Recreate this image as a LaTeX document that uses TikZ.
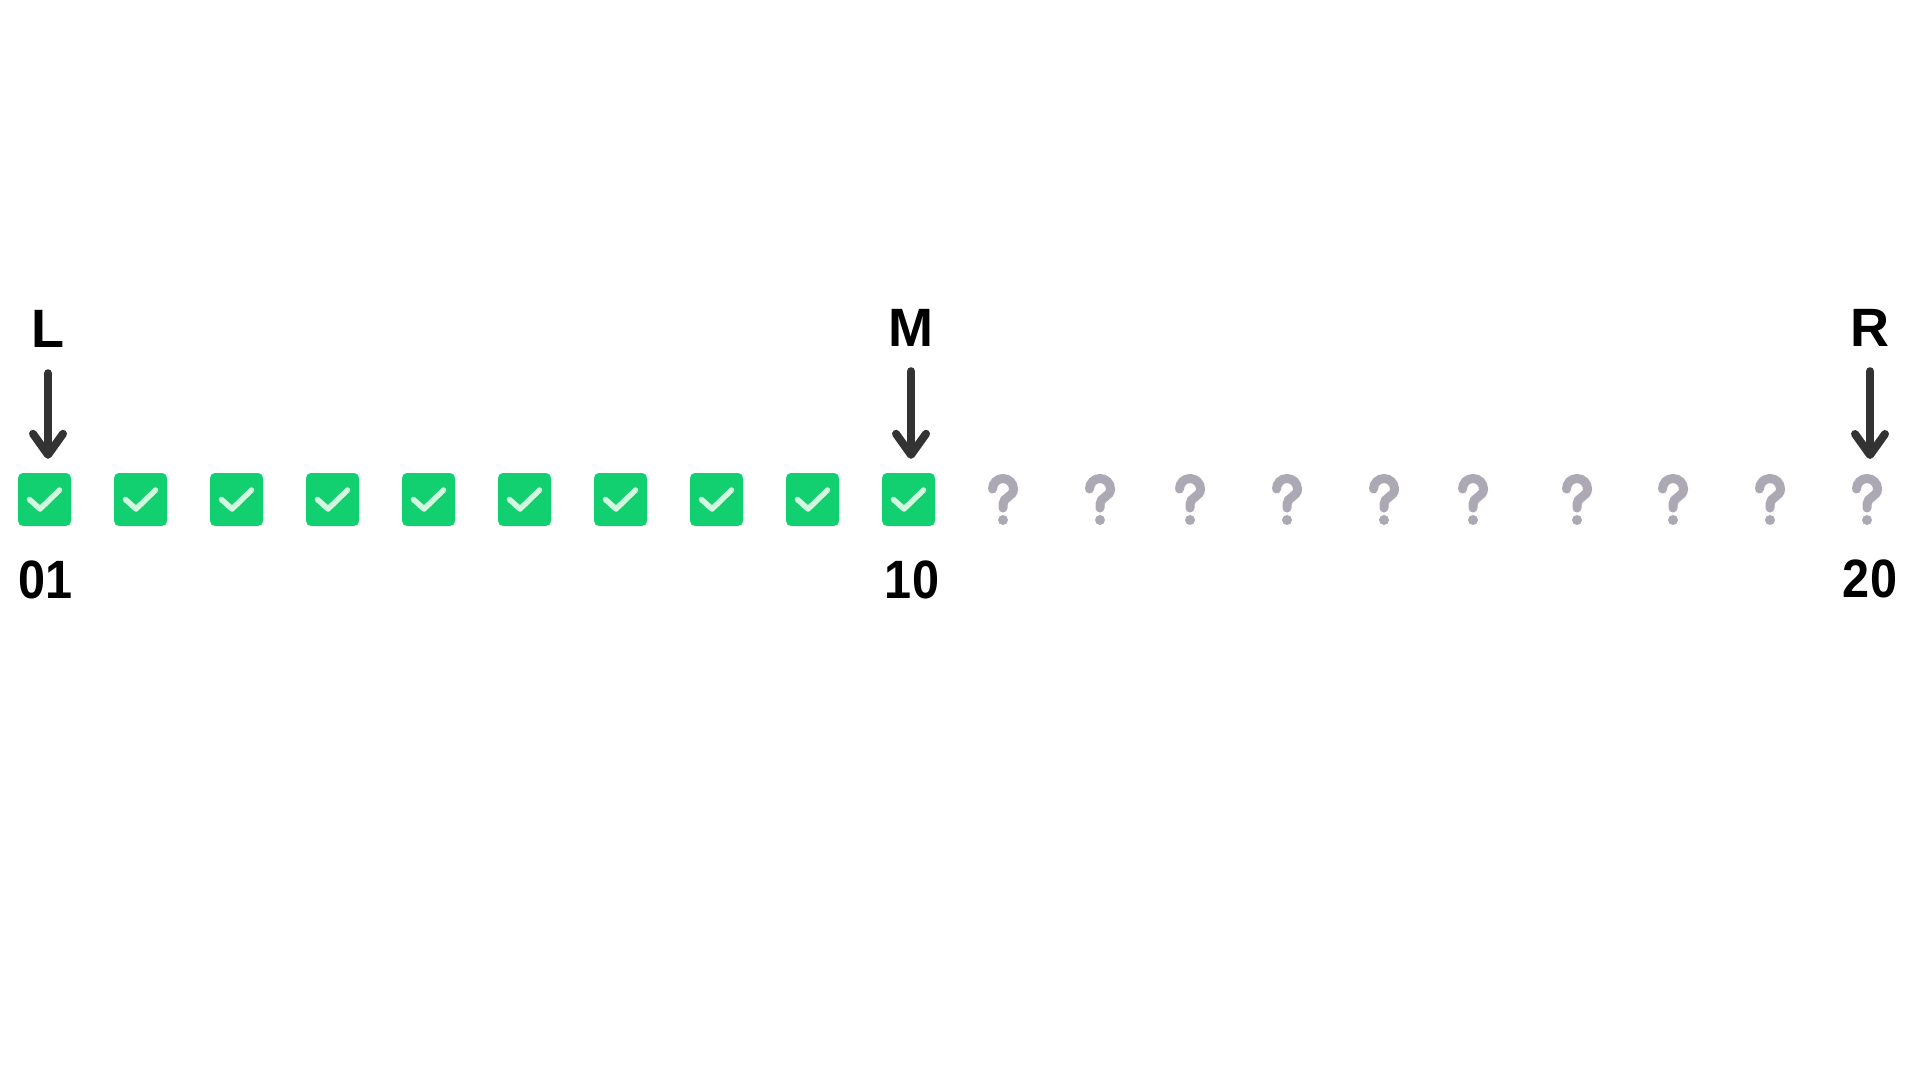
\documentclass[tikz,border=0pt]{standalone}
\usepackage{fontspec}
\setmainfont{Liberation Sans}
\newfontfamily\numfont[FakeStretch=0.9]{Liberation Sans}
\usetikzlibrary{arrows.meta}
\definecolor{okgreen}{HTML}{12D06F}
\definecolor{tickcol}{HTML}{D4F7DF}
\definecolor{qcol}{HTML}{ADA9B4}
\definecolor{ptrcol}{HTML}{333333}
\begin{document}
\begin{tikzpicture}[x=1pt,y=-1pt,
  okbox/.style={draw=none, fill=okgreen, rounded corners=5pt, minimum width=53pt, minimum height=53pt, inner sep=0pt},
  tick/.style={draw=tickcol, line width=5.5pt, line cap=round, line join=round},
  qmark/.style={draw=qcol, line width=9pt, line cap=round},
  ptr/.style={draw=ptrcol, line width=8pt, line cap=round, -{Straight Barb[length=21pt, width=30pt, round]}},
  lbl/.style={font=\bfseries\fontsize{54}{60}\selectfont, anchor=base, inner sep=0pt},
  numlbl/.style={font=\numfont\bfseries\fontsize{54}{60}\selectfont, anchor=base, inner sep=0pt}]
\useasboundingbox (0,0) rectangle (1920,1080);
\fill[white] (0,0) rectangle (1920,1080);
% checked boxes
\foreach \i in {1,...,10} {
  \node[okbox] (b\i) at ({44.5+96*(\i-1)},499.5) {};
  \draw[tick] ([shift={(-15,0)}]b\i.center) -- ([shift={(-4.5,9.5)}]b\i.center) -- ([shift={(15,-9.5)}]b\i.center);
}
% unknown cells
\foreach \x [count=\j from 11] in {1003,1100,1190,1287,1384,1473,1577,1673,1770,1867} {
  \coordinate (q\j) at (\x,499.5);
  \draw[qmark] ([shift={(-10.5,-10.5)}]q\j) arc[start angle=180, end angle=360, radius=10.5]
     .. controls +(0,8) and +(0,-7) .. ([shift={(0,4.5)}]q\j) -- ([shift={(0,8.5)}]q\j);
  \fill[qcol] ([shift={(0,20.5)}]q\j) circle[radius=5];
}
% pointer labels
\node[lbl] (Lt) at (48,347) {L};
\node[lbl] (Mt) at (911,346) {M};
\node[lbl] (Rt) at (1870,346) {R};
\draw[ptr, shorten <=26pt, shorten >=14pt] (Lt.south) -- (Lt.south |- b1.north);
\draw[ptr, shorten <=25pt, shorten >=14pt] (Mt.south) -- (Mt.south |- b10.north);
\draw[ptr, shorten <=25pt, shorten >=40.5pt] (Rt.south) -- (Rt.south |- q20);
% index labels
\node[numlbl] (n1) at (45.5,598) {01};
\node[numlbl] (n10) at (912,598) {10};
\node[numlbl] (n20) at (1870,597) {20};
\end{tikzpicture}
\end{document}
